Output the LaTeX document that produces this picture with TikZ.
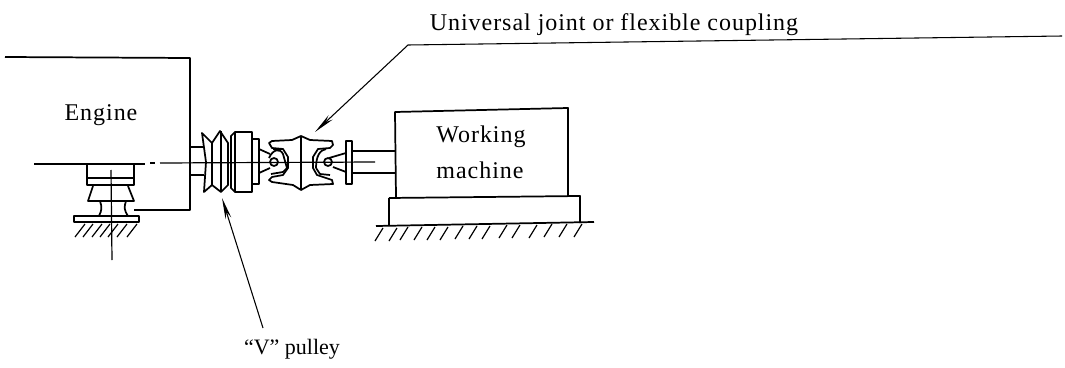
\documentclass[tikz,border=0pt]{standalone}
\usepackage{fontspec}
\setmainfont[LetterSpace=4]{Liberation Serif}
\usetikzlibrary{arrows.meta}
\tikzset{every picture/.style={line width=0.75pt}}
\tikzset{part/.style={line width=1.3pt, line join=round}}
\tikzset{thinpart/.style={line width=0.9pt}}
\tikzset{leader/.style={line width=0.8pt, -{Stealth[length=16pt,width=4.5pt]}}}
\tikzset{caption/.style={inner sep=0.75pt, font=\fontsize{18}{21}\selectfont}}

\begin{document}
\begin{tikzpicture}[x=0.75pt,y=0.75pt,yscale=-1,xscale=1]
\useasboundingbox (0,0) rectangle (1065,368);

%Shape: Engine outline
\draw [part] (5,57) -- (190,58) -- (190,210) -- (134,210) ;
%Straight Lines: centre line
\draw [thinpart] (34,164) -- (145,164) ;
\draw [thinpart] (150,163) -- (155,163) ;
\draw [thinpart] (160,163) -- (375,162) ;
%Shape: Mount
\draw [part] (87,164) -- (87,185) -- (134,185) -- (134,164) ;
\draw [part] (87,178) -- (134,178) ;
\draw [part] (93,186) -- (88,201) -- (134,201) -- (128,186) ;
\draw [part] (100,201) .. controls (102,207) and (102,210) .. (99,216) ;
\draw [part] (126,201) .. controls (124,207) and (124,210) .. (128,216) ;
\draw [part] (74,216) -- (139,216) -- (139,222) -- (74,222) -- cycle ;
\draw [thinpart] (111,170) -- (112,260) ;
%Straight Lines: mount hatching
\draw [thinpart] (85,224) -- (75,237) ;
\draw [thinpart] (93,224) -- (83,237) ;
\draw [thinpart] (102,224) -- (92,237) ;
\draw [thinpart] (110,224) -- (100,237) ;
\draw [thinpart] (118,224) -- (108,237) ;
\draw [thinpart] (127,224) -- (117,237) ;
\draw [thinpart] (137,224) -- (127,237) ;
%Shape: Pulley hub
\draw [part] (190,147) -- (203,147) ;
\draw [part] (190,175) -- (204,175) ;
%Shape: V pulley
\draw [part] (202,133) -- (212,143) -- (220,131) -- (228,143) -- (228,185) -- (221,192) -- (212,185) -- (204,192) -- (206,162) -- cycle ;
\draw [part] (212,143) -- (212,185) ;
\draw [part] (221,131) -- (221,192) ;
\draw [part] (231,136) -- (235,132) -- (252,132) -- (252,192) -- (235,192) -- (231,188) -- cycle ;
\draw [part] (235,132) -- (235,192) ;
\draw [part] (252,139) -- (259,139) -- (259,184) -- (252,184) ;
%Shape: Joint left fork
\draw [part] (259,149) -- (270,154) ;
\draw [part] (259,173) -- (270,168) ;
\draw [part] (274,162) circle [radius=4] ;
\draw [part] (269,158) .. controls (273,149) and (280,148) .. (283,154) -- (287,168) -- (283,172) -- (271,174) ;
\draw [part] (273,149) -- (283,149) ;
%Shape: Joint body
\draw [part] (269,143) -- (272,141) -- (292,140) -- (301,136) -- (310,140) -- (332,141) -- (333,145) -- (330,148) -- (318,149) -- (313,157) -- (313,168) -- (317,175) -- (332,180) -- (333,184) -- (310,185) -- (301,190) -- (293,185) -- (272,182) -- (269,180) -- (272,177) -- (283,175) -- (288,168) -- (288,157) -- (283,149) -- (272,148) -- cycle ;
\draw [part] (301,136) -- (301,190) ;
%Shape: Joint right fork
\draw [part] (328,162) circle [radius=4] ;
\draw [part] (329,158) -- (346,153) ;
\draw [part] (333,167) -- (346,172) ;
\draw [part] (316,168) .. controls (316,156) and (320,150) .. (326,149) ;
\draw [part] (316,168) -- (320,174) -- (330,175) ;
%Shape: Flange
\draw [part] (346,141) -- (352,141) -- (352,184) -- (346,184) -- cycle ;
%Straight Lines: output shaft
\draw [part] (352,151) -- (395,151) ;
\draw [part] (352,173) -- (395,173) ;
%Shape: Working machine
\draw [part] (396,197) -- (395,112) -- (568,108) -- (568,196) ;
\draw [part] (389,198) -- (580,196) -- (580,223) ;
\draw [part] (389,198) -- (389,225) ;
\draw [part] (376,226) -- (594,222) ;
%Straight Lines: machine hatching
\draw [thinpart] (383,228) -- (375,241) ;
\draw [thinpart] (397,228) -- (389,241) ;
\draw [thinpart] (408,227) -- (400,240) ;
\draw [thinpart] (422,227) -- (414,240) ;
\draw [thinpart] (435,227) -- (427,240) ;
\draw [thinpart] (448,227) -- (440,240) ;
\draw [thinpart] (463,226) -- (455,239) ;
\draw [thinpart] (477,226) -- (469,239) ;
\draw [thinpart] (490,226) -- (482,239) ;
\draw [thinpart] (507,225) -- (499,238) ;
\draw [thinpart] (520,225) -- (512,238) ;
\draw [thinpart] (537,225) -- (529,238) ;
\draw [thinpart] (552,224) -- (544,237) ;
\draw [thinpart] (567,224) -- (559,237) ;
\draw [thinpart] (582,224) -- (574,237) ;

% Text Node
\node [caption] (engine) at (101,115) {Engine};
% Text Node
\node [caption] (working) at (481,137) {Working};
% Text Node
\node [caption] (machine) at (480,170) {machine};
% Text Node
\node [caption] (jointlabel) at (614,25) {Universal joint or flexible coupling};
% Text Node
\node [caption, font=\fontsize{16.5}{20}\selectfont\addfontfeature{LetterSpace=0}] (pulleylabel) at (292,349) {``V'' pulley};

%Straight Lines: leaders
\coordinate (jointend) at (1062,36);
\coordinate (jointbend) at (408,45);
\coordinate (jointtip) at (315,132);
\coordinate (pulleyfoot) at (263,328);
\coordinate (pulleytip) at (222,198);
\draw [leader] (jointend) -- (jointbend) -- (jointtip) ;
\draw [leader] (pulleyfoot) -- (pulleytip) ;

\end{tikzpicture}
\end{document}
